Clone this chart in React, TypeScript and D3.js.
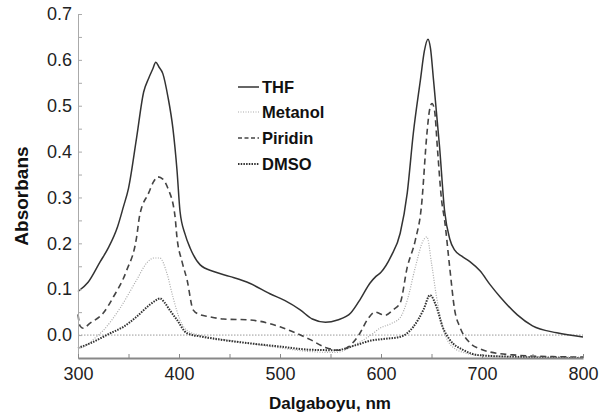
import { useRef, useEffect } from 'react';
import * as d3 from 'd3';

// [wavelength nm, absorbance]
const thf: [number, number][] = [
  [300, 0.095], [310, 0.115], [322, 0.16], [330, 0.19], [339, 0.235], [345, 0.28],
  [350, 0.32], [358, 0.43], [365, 0.53], [370, 0.56], [374, 0.58], [377, 0.595],
  [380, 0.585], [384, 0.57], [389, 0.52], [394, 0.45], [398, 0.36], [401, 0.27],
  [406, 0.22], [411, 0.19], [421, 0.153], [435, 0.138], [450, 0.128], [470, 0.113],
  [490, 0.09], [505, 0.075], [520, 0.055], [532, 0.035], [545, 0.028], [557, 0.033],
  [570, 0.048], [580, 0.08], [589, 0.113], [595, 0.128], [600, 0.137], [610, 0.172],
  [619, 0.222], [626, 0.31], [632, 0.44], [639, 0.556], [643, 0.62], [646.5, 0.645],
  [649, 0.625], [652, 0.556], [658, 0.41], [663, 0.27], [668, 0.21], [673, 0.185],
  [680, 0.172], [688, 0.16], [698, 0.14], [708, 0.11], [718, 0.083], [735, 0.044],
  [750, 0.02], [774, 0.005], [800, -0.004]
];

const metanol: [number, number][] = [
  [300, -0.03], [310, -0.02], [315, -0.01], [325, 0.01], [342, 0.06], [358, 0.12],
  [368, 0.157], [375, 0.168], [381, 0.168], [388, 0.135], [394, 0.083], [401, 0.033],
  [408, 0.01], [420, 0.0], [440, -0.008], [470, -0.018], [500, -0.028], [530, -0.036],
  [555, -0.038], [575, -0.02], [590, 0.0], [599, 0.015], [610, 0.025], [619, 0.038],
  [626, 0.076], [634, 0.148], [642, 0.207], [645.5, 0.214], [650, 0.157], [655, 0.083],
  [661, 0.018], [671, -0.026], [685, -0.04], [700, -0.045], [750, -0.047], [800, -0.048]
];

const piridin: [number, number][] = [
  [300, 0.045], [302, 0.02], [305, 0.015], [312, 0.026], [325, 0.048], [335, 0.083],
  [348, 0.14], [358, 0.213], [361, 0.26], [370, 0.31], [375, 0.335], [379, 0.345],
  [384, 0.34], [389, 0.32], [396, 0.26], [398, 0.213], [403, 0.16], [408, 0.12],
  [414, 0.055], [420, 0.045], [430, 0.04], [444, 0.035], [470, 0.033], [490, 0.025],
  [500, 0.018], [515, 0.005], [530, -0.01], [545, -0.027], [558, -0.033], [568, -0.025],
  [578, 0.0], [587, 0.035], [594, 0.05], [604, 0.043], [612, 0.055], [619, 0.07],
  [626, 0.148], [634, 0.207], [640, 0.28], [645.5, 0.44], [648, 0.49], [650.5, 0.505],
  [653, 0.49], [656, 0.403], [660, 0.294], [663, 0.25], [668, 0.148], [673, 0.054],
  [678, 0.018], [688, -0.017], [698, -0.03], [708, -0.037], [735, -0.044], [770, -0.047],
  [800, -0.048]
];

const dmso: [number, number][] = [
  [300, -0.028], [312, -0.018], [332, 0.004], [345, 0.018], [358, 0.04], [371, 0.066],
  [378, 0.077], [381, 0.08], [386, 0.07], [391, 0.054], [398, 0.033], [408, 0.004],
  [424, -0.004], [441, -0.01], [470, -0.018], [500, -0.025], [530, -0.032], [555, -0.033],
  [575, -0.022], [590, -0.012], [605, -0.008], [619, -0.004], [632, 0.018], [642, 0.055],
  [648.5, 0.087], [655, 0.061], [661, 0.018], [668, -0.01], [681, -0.032], [698, -0.044],
  [740, -0.048], [800, -0.05]
];

const legendNames = ['THF', 'Metanol', 'Piridin', 'DMSO'];
const yTicks = d3.range(-0.05, 0.701, 0.05);
const xTicks = d3.range(300, 801, 50);

const styles = [
  { color: '#333', width: 1.5, dash: null },
  { color: '#aaa', width: 1.2, dash: '1,1.5' },
  { color: '#444', width: 1.6, dash: '6,4' },
  { color: '#333', width: 2, dash: '1.5,1.2' }
];

const FONT = '"Liberation Sans", Arial, Helvetica, sans-serif';

const Chart = () => {
  const ref = useRef<SVGSVGElement>(null);

  useEffect(() => {
    const svg = d3.select(ref.current);
    svg.selectAll('*').remove();

    const x = d3.scaleLinear().domain([300, 800]).range([78, 583]);
    const y = d3.scaleLinear().domain([-0.05, 0.7]).range([358, 14]);

    // zero line
    svg.append('line')
      .attr('x1', x(300)).attr('x2', x(800))
      .attr('y1', y(0)).attr('y2', y(0))
      .attr('stroke', '#999').attr('stroke-width', 1)
      .attr('stroke-dasharray', '1.5,1.5');

    const line = d3.line<[number, number]>()
      .x(d => x(d[0]))
      .y(d => y(d[1]))
      .curve(d3.curveMonotoneX);

    const series = [thf, metanol, piridin, dmso];
    // draw lighter ones first
    [1, 3, 2, 0].forEach(i => {
      const s = styles[i];
      svg.append('path')
        .datum(series[i])
        .attr('d', line)
        .attr('fill', 'none')
        .attr('stroke', s.color)
        .attr('stroke-width', s.width)
        .attr('stroke-dasharray', s.dash);
    });

    // y axis
    const yAxis = svg.append('g')
      .attr('transform', `translate(${x(300)},0)`)
      .call(d3.axisLeft(y)
        .tickValues(yTicks)
        .tickSizeInner(-4)
        .tickSizeOuter(0)
        .tickPadding(6)
        .tickFormat(d => {
          const v = Math.round(+d * 100);
          return v >= 0 && v % 10 === 0 ? d3.format('.1f')(+d) : '';
        }));
    yAxis.select('.domain').attr('stroke', '#aaa').attr('stroke-width', 1);
    yAxis.selectAll('.tick line').attr('stroke', '#aaa');
    yAxis.selectAll('text')
      .attr('font-family', FONT).attr('font-size', 18).attr('fill', '#222');

    // x axis
    const xAxis = svg.append('g')
      .attr('transform', `translate(0,${y(-0.05)})`)
      .call(d3.axisBottom(x)
        .tickValues(xTicks)
        .tickSizeInner(-4)
        .tickSizeOuter(0)
        .tickPadding(9)
        .tickFormat(d => (+d % 100 === 0 ? String(d) : '')));
    xAxis.select('.domain').attr('stroke', '#888').attr('stroke-width', 2);
    xAxis.selectAll('.tick line').attr('stroke', '#888');
    xAxis.selectAll('text')
      .attr('font-family', FONT).attr('font-size', 18).attr('fill', '#222');

    // axis titles
    svg.append('text')
      .attr('x', 330).attr('y', 409)
      .attr('text-anchor', 'middle')
      .attr('font-family', FONT).attr('font-size', 17).attr('font-weight', 'bold')
      .attr('fill', '#111')
      .text('Dalgaboyu, nm');

    svg.append('text')
      .attr('transform', 'translate(28,196) rotate(-90)')
      .attr('text-anchor', 'middle')
      .attr('font-family', FONT).attr('font-size', 19).attr('font-weight', 'bold')
      .attr('fill', '#111')
      .text('Absorbans');

    // legend
    const legendY = [87, 112, 138, 164];
    legendNames.forEach((name, i) => {
      const s = styles[i];
      svg.append('line')
        .attr('x1', 238).attr('x2', 259)
        .attr('y1', legendY[i]).attr('y2', legendY[i])
        .attr('stroke', s.color)
        .attr('stroke-width', i === 2 ? 1.6 : s.width)
        .attr('stroke-dasharray', i === 2 ? '4,2.5' : s.dash);
      svg.append('text')
        .attr('x', 262).attr('y', legendY[i])
        .attr('dy', '0.36em')
        .attr('font-family', FONT).attr('font-size', 16.5).attr('font-weight', 'bold')
        .attr('fill', '#111')
        .text(name);
    });
  }, []);

  return <svg ref={ref} width={608} height={420} style={{ display: 'block' }}></svg>;
};

export default function App() {
  return (
    <div style={{ position: 'fixed', left: 0, top: 0, background: '#fff' }}>
      <Chart />
    </div>
  );
}
